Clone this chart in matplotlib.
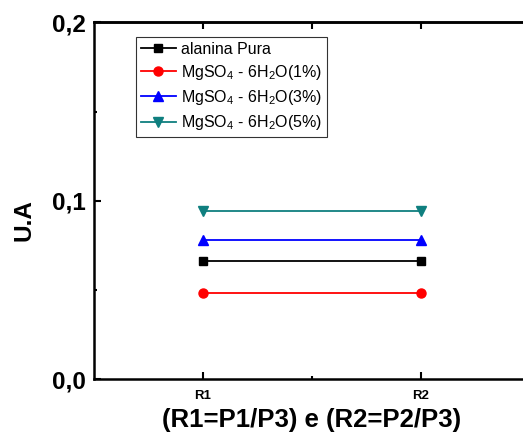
import numpy as np
import matplotlib
matplotlib.use('Agg')
import matplotlib.pyplot as plt

plt.rcParams['font.family'] = ['Liberation Sans', 'DejaVu Sans']
plt.rcParams['mathtext.fontset'] = 'custom'
plt.rcParams['mathtext.rm'] = 'Liberation Sans'

# data
categories = ['R1', 'R2']
alanina_pura = [0.066, 0.066]
mgso4_1 = [0.048, 0.048]
mgso4_3 = [0.078, 0.078]
mgso4_5 = [0.094, 0.094]
y_ticks = [0.0, 0.1, 0.2]
y_labels = ['0,0', '0,1', '0,2']

fig = plt.figure(figsize=(5.23, 4.44), dpi=100)
ax = fig.add_axes([94/523, 65/444, 436/523, 356.5/444])

x = np.arange(1, len(categories) + 1)
ax.plot(x, alanina_pura, '-s', color='black', lw=1.3, ms=6, label='alanina Pura')
ax.plot(x, mgso4_1, '-o', color='red', lw=1.3, ms=6.5, label=r'MgSO$_4$ - 6H$_2$O(1%)')
ax.plot(x, mgso4_3, '-^', color='blue', lw=1.3, ms=6.5, label=r'MgSO$_4$ - 6H$_2$O(3%)')
ax.plot(x, mgso4_5, '-v', color='#0f7f7f', lw=1.3, ms=6.5, label=r'MgSO$_4$ - 6H$_2$O(5%)')

ax.set_xlim(0.5, 2.5)
ax.set_ylim(0, 0.2)
ax.set_xticks(x)
ax.set_xticklabels(categories, fontsize=9.5, fontweight='bold')
ax.set_xticks([1.5], minor=True)
ax.set_yticks(y_ticks)
ax.set_yticklabels(y_labels, fontsize=17.5, fontweight='bold')
ax.set_yticks([0.05, 0.15], minor=True)
ax.tick_params(which='major', direction='in', width=1.5, length=5, pad=6)
ax.tick_params(which='minor', direction='in', width=1.5, length=2.5)
ax.tick_params(axis='x', which='major', pad=8)

top = ax.secondary_xaxis('top')
top.set_xticks([1, 1.5, 2])
top.tick_params(direction='in', width=1.5, length=5, labeltop=False)
top.spines['top'].set_linewidth(1.8)

for s in ax.spines.values():
    s.set_linewidth(1.8)

ax.set_xlabel('(R1=P1/P3) e (R2=P2/P3)', fontsize=18.5, fontweight='bold')
ax.xaxis.set_label_coords(0.5, -0.082)
ax.set_ylabel('U.A', fontsize=17.5, fontweight='bold')
ax.yaxis.set_label_coords(-0.135, 0.446)

leg = ax.legend(loc='upper left', bbox_to_anchor=(0.096, 0.959), borderaxespad=0,
                fontsize=11.5, frameon=True, fancybox=False, edgecolor='black',
                handlelength=2.2, handletextpad=0.35, labelspacing=0.38,
                borderpad=0.3)
leg.get_frame().set_linewidth(0.8)

fig.savefig('out.png', dpi=100)
